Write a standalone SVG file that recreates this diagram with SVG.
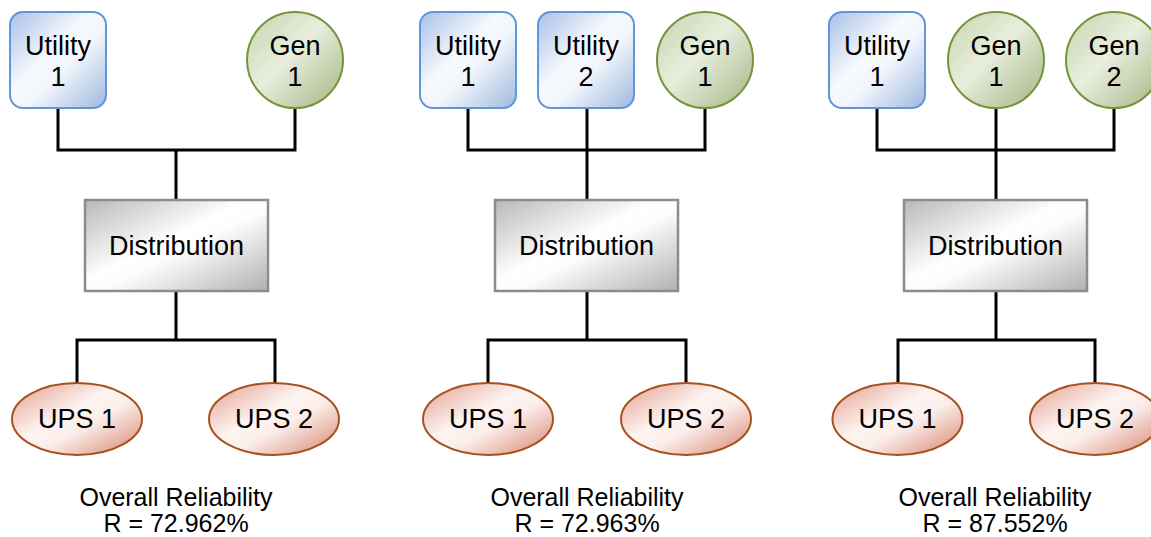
<svg xmlns="http://www.w3.org/2000/svg" width="1151" height="537" viewBox="0 0 1151 537">
  <defs>
    <linearGradient id="gUtil" x1="0" y1="0" x2="1" y2="1">
      <stop offset="0" stop-color="#a6c0e7"/>
      <stop offset="0.42" stop-color="#f7f9fd"/>
      <stop offset="0.58" stop-color="#f2f6fc"/>
      <stop offset="1" stop-color="#9db8df"/>
    </linearGradient>
    <linearGradient id="gGen" x1="0" y1="0" x2="1" y2="1">
      <stop offset="0" stop-color="#c6d3ad"/>
      <stop offset="0.45" stop-color="#e8eedd"/>
      <stop offset="1" stop-color="#a3b482"/>
    </linearGradient>
    <linearGradient id="gDist" x1="0" y1="0" x2="1" y2="1">
      <stop offset="0" stop-color="#b8b8b8"/>
      <stop offset="0.45" stop-color="#ffffff"/>
      <stop offset="0.55" stop-color="#fcfcfc"/>
      <stop offset="1" stop-color="#b0b0b0"/>
    </linearGradient>
    <linearGradient id="gUps" x1="0" y1="0" x2="1" y2="1">
      <stop offset="0" stop-color="#e39c8a"/>
      <stop offset="0.42" stop-color="#fdf4f1"/>
      <stop offset="0.58" stop-color="#fbeeea"/>
      <stop offset="1" stop-color="#d6826d"/>
    </linearGradient>
  </defs>
  <style>
    text { font-family: "Liberation Sans", Arial, sans-serif; fill: #000; text-anchor: middle; }
    .lbl { font-size: 27px; }
    .cap { font-size: 25px; }
    .util { fill: url(#gUtil); stroke: #5f96dc; stroke-width: 2; }
    .gen { fill: url(#gGen); stroke: #76943a; stroke-width: 2; }
    .dist { fill: url(#gDist); stroke: #8c8c8c; stroke-width: 2.5; }
    .ups { fill: url(#gUps); stroke: #a5521f; stroke-width: 2; }
    .wire { fill: none; stroke: #000; stroke-width: 3; stroke-linejoin: miter; }
  </style>

  <!-- wiring -->
  <g id="connectors">
    <!-- left system -->
    <path class="wire" d="M58 108 V150 H295 V108"/>
    <path class="wire" d="M176 150 V200"/>
    <path class="wire" d="M176 291 V340"/>
    <path class="wire" d="M77 383 V340 H275 V383"/>
    <!-- middle system -->
    <path class="wire" d="M468 108 V150 H705 V108"/>
    <path class="wire" d="M587 108 V200"/>
    <path class="wire" d="M587 291 V340"/>
    <path class="wire" d="M488 383 V340 H686 V383"/>
    <!-- right system -->
    <path class="wire" d="M877 108 V150 H1114 V108"/>
    <path class="wire" d="M996 108 V200"/>
    <path class="wire" d="M996 291 V340"/>
    <path class="wire" d="M898 383 V340 H1095 V383"/>
  </g>

  <!-- left system -->
  <g id="a-utility1">
    <rect class="util" x="10" y="12" width="96" height="96" rx="13"/>
    <text class="lbl" x="58" y="55">Utility</text>
    <text class="lbl" x="58" y="86">1</text>
  </g>
  <g id="a-gen1">
    <circle class="gen" cx="295" cy="60" r="48"/>
    <text class="lbl" x="295" y="55">Gen</text>
    <text class="lbl" x="295" y="86">1</text>
  </g>
  <g id="a-dist">
    <rect class="dist" x="85" y="200" width="183" height="91"/>
    <text class="lbl" x="176.5" y="255">Distribution</text>
  </g>
  <g id="a-ups1">
    <ellipse class="ups" cx="77" cy="419" rx="65" ry="36"/>
    <text class="lbl" x="77" y="428">UPS 1</text>
  </g>
  <g id="a-ups2">
    <ellipse class="ups" cx="274" cy="419" rx="65" ry="36"/>
    <text class="lbl" x="274" y="428">UPS 2</text>
  </g>
  <g id="a-result">
    <text class="cap" x="176" y="506">Overall Reliability</text>
    <text class="cap" x="176" y="532">R = 72.962%</text>
  </g>

  <!-- middle system -->
  <g id="b-utility1">
    <rect class="util" x="420" y="12" width="96" height="96" rx="13"/>
    <text class="lbl" x="468" y="55">Utility</text>
    <text class="lbl" x="468" y="86">1</text>
  </g>
  <g id="b-utility2">
    <rect class="util" x="538" y="12" width="96" height="96" rx="13"/>
    <text class="lbl" x="586" y="55">Utility</text>
    <text class="lbl" x="586" y="86">2</text>
  </g>
  <g id="b-gen1">
    <circle class="gen" cx="705" cy="60" r="48"/>
    <text class="lbl" x="705" y="55">Gen</text>
    <text class="lbl" x="705" y="86">1</text>
  </g>
  <g id="b-dist">
    <rect class="dist" x="495" y="200" width="183" height="91"/>
    <text class="lbl" x="586.5" y="255">Distribution</text>
  </g>
  <g id="b-ups1">
    <ellipse class="ups" cx="488" cy="419" rx="65" ry="36"/>
    <text class="lbl" x="488" y="428">UPS 1</text>
  </g>
  <g id="b-ups2">
    <ellipse class="ups" cx="686" cy="419" rx="65" ry="36"/>
    <text class="lbl" x="686" y="428">UPS 2</text>
  </g>
  <g id="b-result">
    <text class="cap" x="587" y="506">Overall Reliability</text>
    <text class="cap" x="587" y="532">R = 72.963%</text>
  </g>

  <!-- right system -->
  <g id="c-utility1">
    <rect class="util" x="829" y="12" width="96" height="96" rx="13"/>
    <text class="lbl" x="877" y="55">Utility</text>
    <text class="lbl" x="877" y="86">1</text>
  </g>
  <g id="c-gen1">
    <circle class="gen" cx="996" cy="60" r="48"/>
    <text class="lbl" x="996" y="55">Gen</text>
    <text class="lbl" x="996" y="86">1</text>
  </g>
  <g id="c-gen2">
    <circle class="gen" cx="1114" cy="60" r="48"/>
    <text class="lbl" x="1114" y="55">Gen</text>
    <text class="lbl" x="1114" y="86">2</text>
  </g>
  <g id="c-dist">
    <rect class="dist" x="904" y="200" width="183" height="91"/>
    <text class="lbl" x="995.5" y="255">Distribution</text>
  </g>
  <g id="c-ups1">
    <ellipse class="ups" cx="897.5" cy="419" rx="65" ry="36"/>
    <text class="lbl" x="897.5" y="428">UPS 1</text>
  </g>
  <g id="c-ups2">
    <ellipse class="ups" cx="1095" cy="419" rx="65" ry="36"/>
    <text class="lbl" x="1095" y="428">UPS 2</text>
  </g>
  <g id="c-result">
    <text class="cap" x="995" y="506">Overall Reliability</text>
    <text class="cap" x="995" y="532">R = 87.552%</text>
  </g>
</svg>
